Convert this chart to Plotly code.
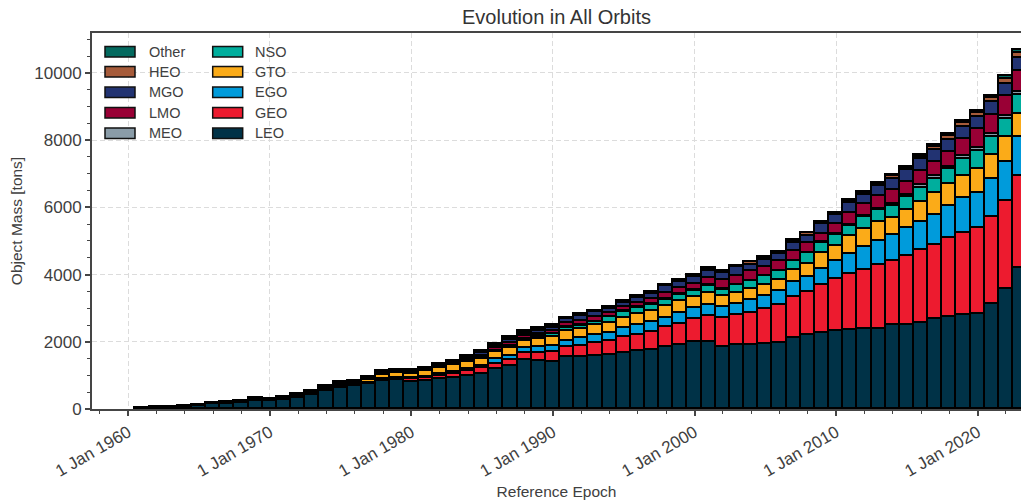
import plotly.graph_objects as go

# Reference epochs (1 January of each year)
years = list(range(1961, 2024))

# Object mass per orbit class [tons], 1961 .. 2023
leo = [25, 35, 45, 60, 90, 149, 158, 188, 248, 239,
       269, 328, 409, 546, 636, 678, 755, 836, 866, 815,
       845, 896, 925, 994, 1045, 1194, 1275, 1454, 1442, 1412,
       1543, 1561, 1591, 1621, 1672, 1722, 1770, 1851, 1919, 1991,
       1991, 1842, 1890, 1890, 1940, 1970, 2128, 2209, 2269, 2307,
       2337, 2388, 2388, 2487, 2507, 2567, 2687, 2740, 2785, 2836,
       3134, 3582, 4209]
geo = [0, 0, 0, 0, 5, 6, 10, 10, 15, 12,
       15, 20, 25, 30, 30, 25, 30, 35, 50, 70,
       91, 100, 120, 130, 170, 160, 197, 218, 230, 280,
       298, 328, 370, 388, 469, 487, 519, 588, 618, 675,
       764, 866, 896, 967, 1045, 1113, 1194, 1275, 1409, 1552,
       1692, 1740, 1910, 1910, 2051, 2158, 2188, 2335, 2439, 2537,
       2588, 2618, 2725]
ego = [0, 0, 0, 0, 0, 0, 0, 0, 0, 0,
       0, 0, 0, 0, 0, 0, 0, 15, 19, 31,
       20, 60, 70, 60, 70, 120, 100, 150, 170, 197,
       197, 239, 227, 260, 257, 278, 287, 278, 319, 340,
       349, 328, 349, 376, 379, 418, 460, 448, 493, 537,
       597, 699, 710, 776, 815, 848, 895, 964, 1045, 1066,
       1114, 1143, 1155]
gto = [0, 0, 0, 0, 0, 0, 10, 10, 15, 10,
       15, 20, 25, 30, 35, 60, 70, 125, 140, 128,
       180, 170, 180, 209, 209, 220, 257, 188, 248, 250,
       269, 239, 298, 298, 319, 349, 340, 337, 346, 316,
       349, 328, 328, 349, 337, 328, 346, 397, 469, 460,
       516, 525, 546, 519, 546, 597, 648, 657, 665, 695,
       725, 738, 687]
nso = [0, 0, 0, 0, 0, 0, 0, 0, 0, 0,
       0, 0, 0, 0, 0, 0, 0, 10, 0, 0,
       10, 10, 15, 20, 30, 30, 40, 60, 60, 80,
       110, 110, 100, 158, 170, 170, 188, 200, 200, 200,
       209, 188, 218, 218, 248, 269, 269, 299, 307, 316,
       310, 370, 367, 358, 398, 418, 427, 438, 508, 558,
       537, 555, 576]
meo = [0, 0, 0, 0, 0, 0, 0, 0, 0, 0,
       0, 0, 0, 0, 0, 0, 0, 0, 0, 0,
       0, 0, 0, 10, 10, 10, 10, 10, 10, 15,
       15, 15, 15, 15, 15, 15, 15, 15, 15, 15,
       20, 20, 20, 20, 20, 20, 20, 20, 20, 25,
       25, 25, 30, 40, 45, 70, 80, 81, 80, 90,
       90, 90, 96]
lmo = [0, 0, 0, 0, 0, 0, 0, 0, 0, 0,
       10, 20, 20, 25, 25, 20, 25, 30, 25, 30,
       25, 25, 30, 40, 50, 70, 100, 80, 75, 80,
       130, 140, 140, 116, 134, 130, 143, 194, 194, 194,
       228, 258, 270, 279, 249, 279, 279, 279, 249, 294,
       342, 342, 379, 426, 403, 426, 439, 448, 508, 547,
       567, 578, 602]
mgo = [0, 0, 0, 0, 0, 0, 0, 0, 0, 0,
       0, 0, 0, 0, 0, 0, 10, 20, 15, 20,
       20, 20, 25, 45, 75, 60, 60, 70, 80, 90,
       107, 149, 137, 128, 128, 150, 170, 188, 170, 209,
       200, 221, 248, 200, 230, 230, 251, 230, 299, 278,
       299, 278, 307, 328, 346, 349, 346, 346, 349, 357,
       370, 377, 398]
heo = [0, 0, 5, 10, 15, 15, 25, 20, 25, 20,
       30, 35, 40, 45, 45, 25, 45, 40, 40, 40,
       25, 25, 30, 30, 45, 40, 40, 45, 45, 45,
       25, 25, 25, 25, 40, 50, 25, 35, 50, 35,
       58, 49, 35, 70, 50, 40, 49, 70, 45, 45,
       70, 70, 70, 85, 70, 80, 100, 110, 120, 120,
       130, 150, 150]
other = [10, 10, 10, 10, 10, 10, 15, 11, 16, 9,
         10, 16, 18, 19, 19, 12, 20, 23, 18, 21,
         17, 20, 20, 25, 30, 30, 50, 35, 45, 55,
         15, 17, 15, 15, 20, 20, 15, 15, 19, 15,
         20, 20, 15, 20, 19, 20, 20, 20, 15, 15,
         20, 20, 20, 25, 20, 39, 41, 51, 68, 69,
         67, 79, 88]

# Stacking order, bottom to top
orbits = ["LEO", "GEO", "EGO", "GTO", "NSO", "MEO", "LMO", "MGO", "HEO", "Other"]
masses = [leo, geo, ego, gto, nso, meo, lmo, mgo, heo, other]
colors = {
    "LEO": "#003247", "GEO": "#ED1B2F", "EGO": "#009BDB", "GTO": "#FBAB18",
    "NSO": "#00AE9D", "MEO": "#8A9CA8", "LMO": "#990035", "MGO": "#223372",
    "HEO": "#A65B3A", "Other": "#046A5F",
}

# Legend layout: two columns, read top to bottom
legend_cols = [["Other", "HEO", "MGO", "LMO", "MEO"],
               ["NSO", "GTO", "EGO", "GEO", "LEO"]]

tick_years = [1960, 1970, 1980, 1990, 2000, 2010, 2020]
tick_text = ["1 Jan %d" % y for y in tick_years]

FONT = "Liberation Sans, Arial, Helvetica, sans-serif"
TXT = "#404040"
AX = "#454545"

fig = go.Figure()
for name, vals in zip(orbits, masses):
    fig.add_trace(go.Bar(
        x=years, y=vals, name=name, width=1.0,
        marker=dict(color=colors[name], line=dict(color="black", width=1.8)),
        showlegend=False,
    ))

# Plot-area geometry in pixels (used for the legend box placement)
W, H = 1021, 501
ML, MR, MT, MB = 92, 0, 33, 92
PW, PH = W - ML - MR, H - MT - MB


def px_to_paper(px, py):
    return (px - ML) / PW, (H - MB - py) / PH


shapes, annotations = [], []
col_x = [(105, 147), (212.7, 253.3)]
row_y = [51.7, 71.7, 92.3, 112.7, 133.3]
sw_w, sw_h = 30, 10.5
for (sx, tx), names in zip(col_x, legend_cols):
    for ry, name in zip(row_y, names):
        x0, y0 = px_to_paper(sx, ry + sw_h / 2)
        x1, y1 = px_to_paper(sx + sw_w, ry - sw_h / 2)
        shapes.append(dict(type="rect", xref="paper", yref="paper",
                           x0=x0, y0=y0, x1=x1, y1=y1,
                           fillcolor=colors[name],
                           line=dict(color="#111111", width=1.5),
                           layer="above"))
        ax, ay = px_to_paper(tx, ry)
        annotations.append(dict(x=ax, y=ay, xref="paper", yref="paper",
                                text=name, showarrow=False,
                                xanchor="left", yanchor="middle",
                                font=dict(family=FONT, size=14.5, color=TXT)))

fig.update_layout(
    width=W, height=H,
    margin=dict(l=ML, r=MR, t=MT, b=MB, pad=0),
    barmode="stack", bargap=0,
    paper_bgcolor="white", plot_bgcolor="white",
    font=dict(family=FONT, color=TXT, size=16),
    title=dict(text="Evolution in All Orbits", x=0.5, xref="paper",
               xanchor="center", y=1 - 17 / H, yref="container",
               yanchor="middle", font=dict(size=20, color="#333333")),
    shapes=shapes, annotations=annotations,
    xaxis=dict(
        range=[1957.436, 2023.06],
        tickmode="array", tickvals=tick_years, ticktext=tick_text,
        tickangle=-30, tickfont=dict(size=17, color=TXT),
        ticks="outside", ticklen=5, tickwidth=1.5, tickcolor=AX,
        showline=True, linecolor=AX, linewidth=2, mirror=True,
        showgrid=True, gridcolor="#dcdcdc", gridwidth=1, griddash="5px,3px",
        zeroline=False,
        minor=dict(tickmode="linear", tick0=1960, dtick=2, ticks="outside",
                   ticklen=3, tickwidth=1, tickcolor=AX, showgrid=False),
        title=dict(text="Reference Epoch", font=dict(size=15.5, color=TXT),
                   standoff=6),
    ),
    yaxis=dict(
        range=[0, 11190],
        tickmode="linear", tick0=0, dtick=2000, tickformat="d",
        tickfont=dict(size=17, color=TXT),
        ticks="outside", ticklen=5, tickwidth=1.5, tickcolor=AX,
        showline=True, linecolor=AX, linewidth=2,
        showgrid=True, gridcolor="#dcdcdc", gridwidth=1, griddash="5px,3px",
        zeroline=False,
        minor=dict(tickmode="linear", tick0=0, dtick=500, ticks="outside",
                   ticklen=3, tickwidth=1, tickcolor=AX, showgrid=False),
        title=dict(text="Object Mass [tons]", font=dict(size=15.5, color=TXT),
                   standoff=8),
    ),
)

fig.write_html("out.html")
